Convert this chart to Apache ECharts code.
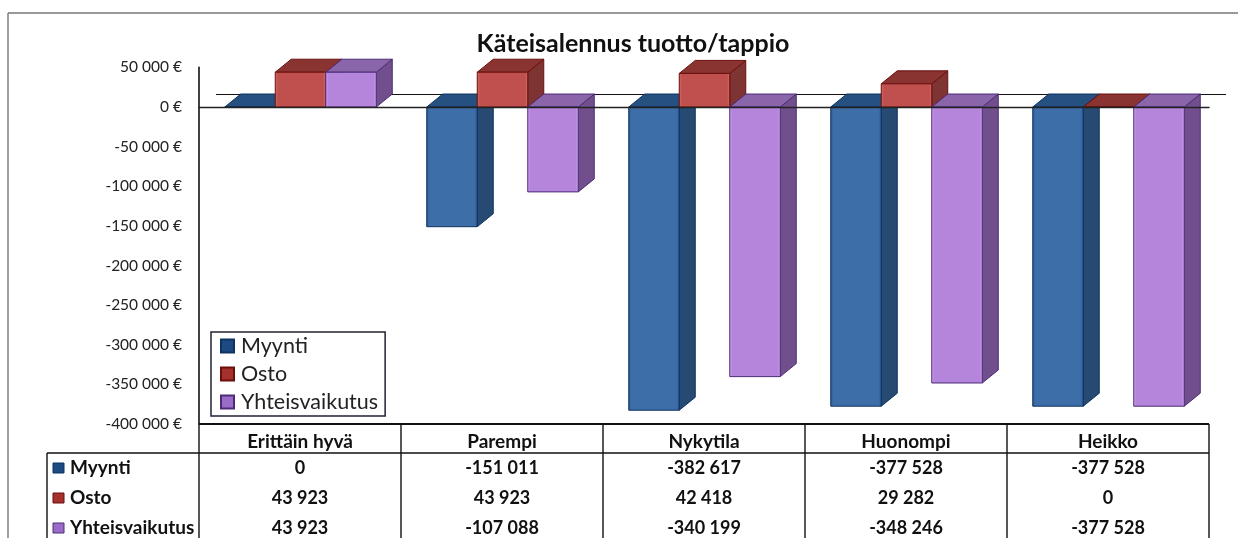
<!DOCTYPE html>
<html>
<head>
<meta charset="utf-8">
<style>
html, body { margin: 0; padding: 0; background: #fff; }
#chart { width: 1238px; height: 538px; }
</style>
<script src="https://cdn.jsdelivr.net/npm/echarts@6/dist/echarts.min.js"></script>
</head>
<body>
<div id="chart"></div>
<script>
const categories = ['Erittäin hyvä', 'Parempi', 'Nykytila', 'Huonompi', 'Heikko'];
const myynti = [0, -151011, -382617, -377528, -377528];
const osto = [43923, 43923, 42418, 29282, 0];
const yhteisvaikutus = [43923, -107088, -340199, -348246, -377528];
const seriesNames = ['Myynti', 'Osto', 'Yhteisvaikutus'];
const yMin = -400000;
const yMax = 50000;
const yStep = 50000;

const font = 'Lato';
const depthX = 16;
const depthY = 13;
const colors = [
    {front: '#3e6ea8', edge: '#0f3361', light: '#24558f', side: '#274a72', top: '#25507f', key: '#1d4a80'},
    {front: '#c0504d', edge: '#6b0f0d', light: '#d8706b', side: '#7d3432', top: '#8a3431', key: '#a5302c'},
    {front: '#b584db', edge: '#4c2c76', light: '#d0a6f2', side: '#714f8c', top: '#8a65a9', key: '#9a6cc8'}
];

function fmt(v) {
    return String(v).replace(/\B(?=(\d{3})+(?!\d))/g, ' ');
}

function bar3d(seriesIndex) {
    return function (params, api) {
        const c = colors[seriesIndex];
        const p0 = api.coord([api.value(0), 0]);
        const p1 = api.coord([api.value(0), api.value(1)]);
        const w = api.size([1, 0])[0] / 4;
        const x = p0[0] + (seriesIndex - 1.5) * w + 0.5;
        const up = Math.min(p0[1], p1[1]);
        const down = Math.max(p0[1], p1[1]);
        const edge = {stroke: c.edge, lineWidth: 1};
        return {
            type: 'group',
            children: [
                {type: 'polygon', shape: {points: [[x + w, up], [x + w + depthX, up - depthY], [x + w + depthX, down - depthY], [x + w, down]]},
                    style: Object.assign({fill: c.side}, edge)},
                {type: 'polygon', shape: {points: [[x, up], [x + depthX, up - depthY], [x + w + depthX, up - depthY], [x + w, up]]},
                    style: Object.assign({fill: c.top}, edge)},
                {type: 'rect', shape: {x: x, y: up, width: w, height: down - up},
                    style: Object.assign({
                        fill: {type: 'linear', x: 0, y: 0, x2: 1, y2: 0, colorStops: [
                            {offset: 0, color: c.light}, {offset: 0.06, color: c.front},
                            {offset: 0.94, color: c.front}, {offset: 1, color: c.light}
                        ]}
                    }, edge)}
            ]
        };
    };
}

function barSeries(name, values, idx) {
    return {
        name: name,
        type: 'custom',
        clip: false,
        renderItem: bar3d(idx),
        encode: {x: 0, y: 1},
        itemStyle: {color: colors[idx].key, borderColor: colors[idx].edge, borderWidth: 1},
        data: values.map(function (v, i) { return [i, v]; }),
        z: 3
    };
}

// back wall line behind the bars, same zero level moved by the depth
const wallSeries = {
    type: 'custom',
    clip: false,
    silent: true,
    renderItem: function (params, api) {
        const p = api.coord([0, 0]);
        const w = api.size([1, 0])[0];
        return {
            type: 'line',
            shape: {x1: p[0] - w / 2 + depthX + 1, y1: Math.round(p[1] - depthY) + 0.5, x2: p[0] + w * 4.5 + depthX + 1, y2: Math.round(p[1] - depthY) + 0.5},
            style: {stroke: '#111', lineWidth: 1}
        };
    },
    data: [[0, 0]],
    z: 1
};

// table under the plot
const left = 199, cellW = 202, right = 1209, tableLeft = 47;
const rowLines = [424, 453];
const headerY = 442;
const rowY = [468, 498, 528];
const rows = [myynti, osto, yhteisvaikutus];
const graphics = [];
function line(x1, y1, x2, y2, w, col) {
    graphics.push({type: 'line', shape: {x1: x1, y1: y1, x2: x2, y2: y2}, style: {stroke: col || '#111', lineWidth: w || 1.4}, z: 10});
}
function label(text, x, y, size, align) {
    graphics.push({type: 'text', x: x, y: y, z: 11, style: {text: text, font: 'bold ' + size + 'px ' + font, fill: '#111', textAlign: align || 'center', textVerticalAlign: 'middle'}});
}
line(8, 13, 1238, 13, 1.4, '#777');
line(8, 13, 8, 538, 1.4, '#777');
line(left, rowLines[0], right, rowLines[0], 2);
line(tableLeft, rowLines[1], right, rowLines[1], 1.6);
line(tableLeft, rowLines[1], tableLeft, 538, 1.4);
for (let i = 0; i <= categories.length; i++) {
    line(left + i * cellW, rowLines[0], left + i * cellW, 538, 1.4);
}
categories.forEach(function (name, i) {
    label(name, left + (i + 0.5) * cellW, headerY, 19);
    rows.forEach(function (vals, r) {
        label(fmt(vals[i]), left + (i + 0.5) * cellW, rowY[r], 18);
    });
});
seriesNames.forEach(function (name, r) {
    graphics.push({type: 'rect', shape: {x: 53, y: rowY[r] - 5, width: 11, height: 10}, style: {fill: colors[r].key, stroke: colors[r].edge, lineWidth: 1}, z: 11});
    label(name, 70, rowY[r], 19, 'left');
});

const chart = echarts.init(document.getElementById('chart'), null, {renderer: 'canvas'});
chart.setOption({
    animation: false,
    backgroundColor: '#fff',
    title: {
        text: 'Käteisalennus tuotto/tappio',
        left: 628,
        top: 26,
        textAlign: 'center',
        textStyle: {fontFamily: font, fontWeight: 'bold', fontSize: 25, color: '#111'}
    },
    legend: {
        orient: 'vertical',
        left: 211,
        top: 332,
        padding: [3, 7, 3, 9],
        itemWidth: 13,
        itemHeight: 13,
        itemGap: 6,
        icon: 'rect',
        borderColor: '#223',
        borderWidth: 1.5,
        backgroundColor: '#fff',
        textStyle: {fontFamily: font, fontSize: 21.5, lineHeight: 21, color: '#222', padding: [0, 0, 0, 2]},
        data: seriesNames,
        z: 9
    },
    grid: {left: 199, width: 1010, top: 67.4, height: 356.6, containLabel: false},
    xAxis: {
        type: 'category',
        data: categories,
        z: 6,
        axisLine: {onZero: true, lineStyle: {color: '#222', width: 1.4}},
        axisTick: {show: false},
        axisLabel: {show: false}
    },
    yAxis: {
        type: 'value',
        min: yMin,
        max: yMax,
        interval: yStep,
        z: 6,
        axisLine: {show: true, lineStyle: {color: '#111', width: 1.6}},
        axisTick: {show: false},
        splitLine: {show: false},
        axisLabel: {
            margin: 17,
            fontFamily: font,
            fontSize: 15.5,
            color: '#222',
            formatter: function (v) { return fmt(v) + ' €'; }
        }
    },
    series: [wallSeries, barSeries(seriesNames[0], myynti, 0), barSeries(seriesNames[1], osto, 1), barSeries(seriesNames[2], yhteisvaikutus, 2)],
    graphic: {elements: graphics}
});
window.addEventListener('resize', function () {
    chart.resize();
});
</script>
</body>
</html>
